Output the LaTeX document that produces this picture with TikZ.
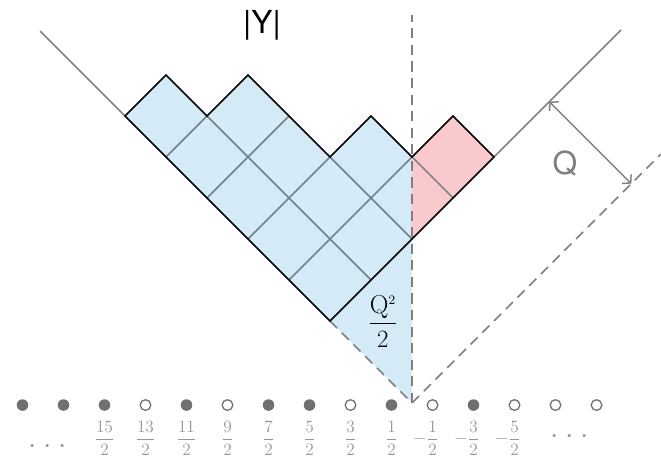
\documentclass[tikz,border=0pt]{standalone}
\usepackage{amsmath}
\usepackage{fontspec}
\newfontfamily\heros{TeX Gyre Heros}
\usetikzlibrary{arrows.meta}
\definecolor{cellblue}{RGB}{212,234,246}
\definecolor{cellred}{RGB}{249,201,203}
\definecolor{axisgrey}{RGB}{128,128,128}
\definecolor{gridslate}{RGB}{112,130,140}
\definecolor{dotgrey}{RGB}{112,112,112}
\definecolor{labelgrey}{RGB}{150,150,150}
\tikzset{
  outline/.style={line width=1.2pt, draw=black},
  gridline/.style={line width=1pt, draw=gridslate},
  axis/.style={line width=1pt, draw=axisgrey},
  axisd/.style={axis, dash pattern=on 7pt off 4.5pt},
  arr2/.style={axis, arrows={Straight Barb[length=4pt,width=9pt]-Straight Barb[length=4pt,width=9pt]}},
  bead/.style={circle, fill=dotgrey, minimum size=8pt, inner sep=0pt},
  hole/.style={circle, draw=dotgrey, line width=0.9pt, minimum size=7.4pt, inner sep=0pt},
  hlf/.style={font=\fontsize{12}{14}\selectfont, text=labelgrey, inner sep=0pt},
  dots/.style={font=\fontsize{20}{22}\selectfont, text=labelgrey, inner sep=0pt},
  big/.style={font=\heros\fontsize{22}{26}\selectfont, inner sep=0pt},
}

\begin{document}
\begin{tikzpicture}
  \useasboundingbox (-10.049,-1.366) rectangle (6.073,9.829);
  \coordinate (O) at (0,0);
  \coordinate (P) at (-2,2);
  % filled cells
  \fill[cellblue] (-7,7) -- (-6,8) -- (-5,7) -- (-4,8) -- (-2,6) -- (-1,7) -- (0,6) -- (O) -- (P) -- cycle;
  \fill[cellred] (0,6) -- (1,7) -- (2,6) -- (0,4) -- cycle;
  \draw[gridline] (-3,3) -- (0,6) (-4,4) -- (-2,6) (-5,5) -- (-3,7) (-6,6) -- (-5,7)
    (-1,3) -- (-5,7) (0,4) -- (-2,6) (1,5) -- (0,6);
  % vacuum lines
  \draw[axis] (-9.07,9.07) -- (-7,7);
  \draw[axis] (2,6) -- (5.1,9.1);
  \draw[axisd] (P) -- (O) -- (6.07,6.07);
  \draw[axisd] (O) -- (0,9.46);
  \draw[outline] (-7,7) -- (-6,8) -- (-5,7) -- (-4,8) -- (-2,6) -- (-1,7) -- (0,6) -- (1,7) -- (2,6) -- (P) -- cycle;
  % charge
  \coordinate (qa) at (3.35,7.35);
  \coordinate (qb) at (5.35,5.35);
  \draw[arr2] (qa) -- (qb);
  \node[big,text=axisgrey] (qlbl) at (3.73,5.85) {Q};
  \node[big] (ylbl) at (-3.66,9.22) {|Y|};
  \node[inner sep=0pt,font=\fontsize{18}{21}\selectfont] (area) at (-0.71,2.0) {$\dfrac{\mathrm{Q}^{\scriptscriptstyle 2}}{2}$};
  % Maya diagram
  \foreach \k/\s in {0/bead,1/bead,2/bead,3/hole,4/bead,5/hole,6/bead,7/bead,8/hole,9/bead,10/hole,11/bead,12/hole,13/hole,14/hole}{
    \node[\s] (m\k) at (\k-9.5,-0.05) {};
  }
  \foreach \k in {2,...,9}{
    \pgfmathtruncatemacro{\n}{2*(9-\k)+1}
    \node[hlf] (f\k) at (\k-9.5,-0.86) {$\dfrac{\n}{2}$};
  }
  \foreach \k in {10,11,12}{
    \pgfmathtruncatemacro{\n}{2*(\k-9)-1}
    \node[hlf] (f\k) at (\k-9.5,-0.86) {\llap{$-$}$\dfrac{\n}{2}$};
  }
  \node[dots] (dl) at (-8.88,-1.07) {$\cdot$\hspace{4.8pt}$\cdot$\hspace{4.8pt}$\cdot$};
  \node[dots] (dr) at (3.85,-0.83) {$\cdot$\hspace{4.8pt}$\cdot$\hspace{4.8pt}$\cdot$};
\end{tikzpicture}
\end{document}
